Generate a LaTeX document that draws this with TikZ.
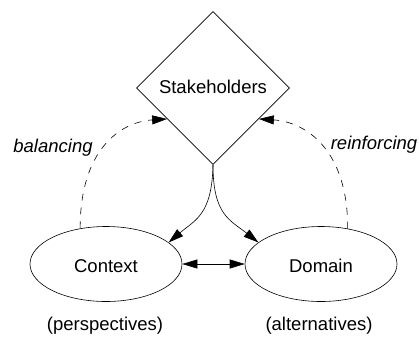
\documentclass[tikz,border=0pt]{standalone}
\usepackage{fontspec}
\setmainfont{Liberation Sans}
\usetikzlibrary{shapes.geometric,arrows.meta}
\begin{document}
\begin{tikzpicture}[x=1pt,y=-1pt,
  every node/.style={font=\fontsize{18.5}{22}\selectfont},
  tip/.style={-{Triangle[length=15pt,width=9pt]}},
  dtip/.style={{Triangle[length=15pt,width=9pt]}-{Triangle[length=15pt,width=9pt]}},
  lbl/.style={anchor=base, inner sep=0pt},
  thin line/.style={line width=0.6pt}]
\useasboundingbox (0,0) rectangle (419,338);
\node[draw, thin line, diamond, aspect=1, minimum width=153pt, minimum height=153pt, inner sep=0pt] (S) at (213,88) {};
\node[lbl] (St) at (213,93) {Stakeholders};
\node[draw, thin line, ellipse, minimum width=152pt, minimum height=75pt, inner sep=0pt] (C) at (106,264) {};
\node[draw, thin line, ellipse, minimum width=152pt, minimum height=75pt, inner sep=0pt] (D) at (321,264) {};
\node[lbl] (Ct) at (106,272) {Context};
\node[lbl] (Dt) at (321,272) {Domain};
\node[lbl] (P) at (105,330) {(perspectives)};
\node[lbl] (A) at (319,330) {(alternatives)};
\node[lbl] (B) at (53,152) {\itshape balancing};
\node[lbl] (R) at (374,149) {\itshape reinforcing};
\draw[thin line, dash pattern=on 7pt off 7pt, tip] (C.126) .. controls (80,150) and (120,122) .. (S.214);
\draw[thin line, dash pattern=on 7pt off 7pt, tip] (D.53) .. controls (348,150) and (306,122) .. (S.326);
\draw[thin line, tip] (S.south) .. controls (212,215) and (195,220) .. (C.19);
\draw[thin line, tip] (S.south) .. controls (213,215) and (230,220) .. (D.161);
\draw[thin line, dtip] (C.east) -- (D.west);
\end{tikzpicture}
\end{document}
